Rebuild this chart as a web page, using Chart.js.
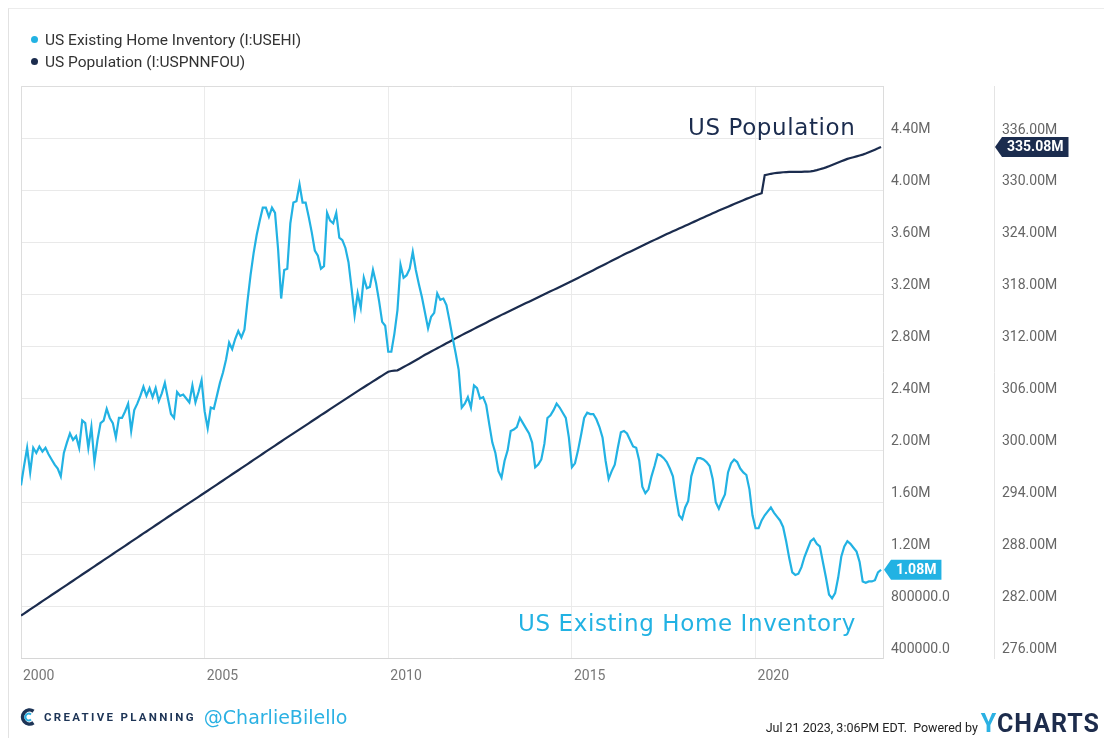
<!DOCTYPE html>
<html>
<head>
<meta charset="utf-8">
<title>US Existing Home Inventory vs US Population</title>
<script src="https://cdn.jsdelivr.net/npm/chart.js@4.4.0/dist/chart.umd.min.js"></script>
<style>
  body { margin: 0; background: #fff; font-family: Roboto, sans-serif; }
  #wrap { position: relative; width: 1104px; height: 738px; overflow: hidden; }
  #chart { position: absolute; left: 0; top: 0; }
  .frame { position: absolute; left: 8px; top: 8px; right: 0; bottom: 0; border-left: 1px solid #e2e2e2; border-top: 1px solid #ececec; }
  .legend { position: absolute; left: 31px; font-size: 15.5px; color: #333; line-height: 18px; }
  .legend span { display: inline-block; width: 7px; height: 7px; border-radius: 50%; margin-right: 7px; vertical-align: 2px; }
  .note { position: absolute; font-family: "DejaVu Sans", sans-serif; font-size: 23px; line-height: 28px; letter-spacing: 0.6px; white-space: nowrap; }
  .brand { position: absolute; left: 20px; top: 706px; display: flex; align-items: center; white-space: nowrap; }
  .brand b { font-size: 11.5px; letter-spacing: 2.3px; color: #1d3456; margin-left: 8px; font-weight: 700; }
  .brand i { font-family: "DejaVu Sans", sans-serif; font-style: normal; font-size: 19px; color: #2bb1e3; margin-left: 8px; }
  .stamp { position: absolute; right: 4px; top: 709px; display: flex; align-items: baseline; white-space: nowrap; }
  .stamp small { font-size: 12.5px; color: #222; margin-right: 3px; }
  .stamp strong { font-size: 25px; letter-spacing: 1px; color: #1d2c4c; font-weight: 700; }
  .stamp strong em { font-style: normal; color: #2bb1e3; }
</style>
</head>
<body>
<div id="wrap">
  <div class="frame"></div>
  <canvas id="chart" width="1104" height="738"></canvas>
  <div class="legend" style="top:31px"><span style="background:#22b2e3"></span>US Existing Home Inventory (I:USEHI)</div>
  <div class="legend" style="top:53px"><span style="background:#1b2c4e"></span>US Population (I:USPNNFOU)</div>
  <div class="note" style="left:688px; top:113px; color:#1b2c4e">US Population</div>
  <div class="note" style="left:518px; top:609px; color:#22b2e3">US Existing Home Inventory</div>
  <div class="brand">
    <svg width="16" height="18" viewBox="0 0 16 18"><path d="M13.5 3.2 A7 7 0 1 0 13.5 14.8" fill="none" stroke="#1d3456" stroke-width="3.6"/><path d="M11 6.4 A3.4 3.4 0 1 0 11 11.6" fill="none" stroke="#2bb1e3" stroke-width="2"/></svg>
    <b>CREATIVE PLANNING</b><i>@CharlieBilello</i>
  </div>
  <div class="stamp"><small>Jul 21 2023, 3:06PM EDT.&nbsp; Powered by</small><strong><em>Y</em>CHARTS</strong></div>
</div>

<script>
// monthly series, Jan 2000 .. Jun 2023, values in millions
const startYear = 2000;

const inventory = [
  1.73, 1.88, 2.02, 1.83, 2.02, 1.98, 2.03, 1.99, 2.02, 1.97, 1.93, 1.89, // 2000
  1.86, 1.80, 1.98, 2.06, 2.13, 2.08, 2.11, 2.02, 2.23, 2.21, 2.02, 2.18, // 2001
  1.91, 2.08, 2.21, 2.23, 2.32, 2.25, 2.21, 2.10, 2.25, 2.25, 2.30, 2.36, // 2002
  2.15, 2.31, 2.36, 2.42, 2.49, 2.42, 2.48, 2.41, 2.48, 2.38, 2.44, 2.52, // 2003
  2.40, 2.28, 2.25, 2.45, 2.42, 2.43, 2.40, 2.37, 2.50, 2.37, 2.45, 2.54, // 2004
  2.30, 2.17, 2.33, 2.32, 2.42, 2.52, 2.60, 2.70, 2.83, 2.78, 2.86, 2.92, // 2005
  2.87, 2.93, 3.15, 3.35, 3.52, 3.66, 3.77, 3.87, 3.87, 3.80, 3.87, 3.83, // 2006
  3.55, 3.17, 3.39, 3.40, 3.75, 3.91, 3.92, 4.05, 3.91, 3.91, 3.80, 3.68, // 2007
  3.54, 3.50, 3.40, 3.42, 3.83, 3.77, 3.75, 3.83, 3.64, 3.62, 3.56, 3.45, // 2008
  3.25, 3.04, 3.21, 3.10, 3.33, 3.25, 3.26, 3.39, 3.29, 3.15, 2.99, 2.96, // 2009
  2.76, 2.76, 2.90, 3.08, 3.43, 3.33, 3.35, 3.40, 3.53, 3.39, 3.28, 3.18, // 2010
  3.06, 2.94, 3.03, 3.06, 3.21, 3.16, 3.17, 3.12, 3.00, 2.87, 2.75, 2.62, // 2011
  2.33, 2.36, 2.41, 2.33, 2.50, 2.48, 2.40, 2.41, 2.35, 2.20, 2.06, 1.98, // 2012
  1.84, 1.79, 1.92, 2.00, 2.15, 2.16, 2.18, 2.25, 2.21, 2.17, 2.13, 2.06, // 2013
  1.87, 1.89, 1.93, 2.05, 2.25, 2.27, 2.31, 2.36, 2.33, 2.29, 2.25, 2.10, // 2014
  1.87, 1.90, 2.00, 2.12, 2.25, 2.29, 2.28, 2.28, 2.24, 2.18, 2.10, 1.92, // 2015
  1.78, 1.84, 1.89, 2.02, 2.14, 2.15, 2.13, 2.08, 2.03, 2.02, 1.92, 1.72, // 2016
  1.67, 1.70, 1.80, 1.88, 1.97, 1.96, 1.94, 1.91, 1.86, 1.80, 1.64, 1.50, // 2017
  1.47, 1.56, 1.61, 1.80, 1.88, 1.94, 1.94, 1.93, 1.91, 1.88, 1.78, 1.60, // 2018
  1.55, 1.61, 1.66, 1.83, 1.90, 1.93, 1.91, 1.86, 1.83, 1.81, 1.70, 1.50, // 2019
  1.40, 1.40, 1.46, 1.50, 1.53, 1.56, 1.52, 1.49, 1.46, 1.41, 1.30, 1.17, // 2020
  1.06, 1.04, 1.05, 1.10, 1.18, 1.24, 1.30, 1.32, 1.28, 1.26, 1.14, 1.02, // 2021
  0.89, 0.86, 0.90, 1.02, 1.18, 1.26, 1.30, 1.28, 1.25, 1.22, 1.14, 0.99, // 2022
  0.98, 0.99, 0.99, 1.00, 1.06, 1.08                                      // 2023
];

const population = [
  280.90, 281.14, 281.38, 281.62, 281.86, 282.09, 282.33, 282.57, 282.80, 283.04, 283.28, 283.51, // 2000
  283.75, 283.99, 284.22, 284.46, 284.70, 284.93, 285.17, 285.41, 285.65, 285.88, 286.12, 286.36, // 2001
  286.60, 286.84, 287.07, 287.31, 287.55, 287.78, 288.02, 288.26, 288.50, 288.73, 288.97, 289.21, // 2002
  289.45, 289.69, 289.92, 290.16, 290.40, 290.63, 290.87, 291.11, 291.35, 291.58, 291.82, 292.06, // 2003
  292.30, 292.53, 292.77, 293.00, 293.23, 293.47, 293.70, 293.93, 294.17, 294.40, 294.63, 294.87, // 2004
  295.10, 295.34, 295.58, 295.81, 296.05, 296.29, 296.52, 296.76, 297.00, 297.24, 297.47, 297.71, // 2005
  297.95, 298.19, 298.42, 298.66, 298.90, 299.13, 299.37, 299.61, 299.85, 300.09, 300.32, 300.56, // 2006
  300.80, 301.03, 301.27, 301.50, 301.73, 301.97, 302.20, 302.43, 302.67, 302.90, 303.13, 303.37, // 2007
  303.60, 303.83, 304.07, 304.30, 304.53, 304.77, 305.00, 305.23, 305.47, 305.70, 305.93, 306.17, // 2008
  306.40, 306.63, 306.85, 307.08, 307.30, 307.53, 307.75, 307.98, 308.20, 308.43, 308.65, 308.88, // 2009
  309.10, 309.18, 309.22, 309.26, 309.45, 309.64, 309.83, 310.02, 310.22, 310.42, 310.62, 310.84, // 2010
  311.05, 311.24, 311.43, 311.62, 311.81, 312.00, 312.19, 312.38, 312.57, 312.76, 312.95, 313.14, // 2011
  313.33, 313.51, 313.69, 313.87, 314.05, 314.23, 314.41, 314.59, 314.77, 314.95, 315.13, 315.31, // 2012
  315.49, 315.67, 315.84, 316.01, 316.18, 316.35, 316.52, 316.69, 316.86, 317.03, 317.20, 317.37, // 2013
  317.54, 317.71, 317.88, 318.05, 318.22, 318.39, 318.56, 318.73, 318.90, 319.07, 319.24, 319.41, // 2014
  319.58, 319.76, 319.94, 320.12, 320.30, 320.48, 320.66, 320.84, 321.02, 321.20, 321.38, 321.56, // 2015
  321.74, 321.92, 322.10, 322.28, 322.46, 322.64, 322.81, 322.98, 323.15, 323.32, 323.49, 323.66, // 2016
  323.83, 324.00, 324.17, 324.34, 324.51, 324.68, 324.85, 325.01, 325.17, 325.33, 325.49, 325.65, // 2017
  325.81, 325.97, 326.13, 326.29, 326.45, 326.61, 326.77, 326.93, 327.09, 327.25, 327.41, 327.57, // 2018
  327.73, 327.88, 328.03, 328.18, 328.33, 328.48, 328.63, 328.78, 328.93, 329.08, 329.22, 329.36, // 2019
  329.50, 329.62, 329.74, 331.82, 331.90, 331.98, 332.04, 332.08, 332.12, 332.16, 332.18, 332.20, // 2020
  332.20, 332.20, 332.20, 332.21, 332.22, 332.23, 332.26, 332.32, 332.40, 332.50, 332.60, 332.72, // 2021
  332.86, 333.00, 333.14, 333.28, 333.42, 333.56, 333.70, 333.80, 333.90, 334.00, 334.10, 334.20, // 2022
  334.32, 334.47, 334.62, 334.77, 334.92, 335.08                                                  // 2023
];

const seriesNames = ['US Existing Home Inventory (I:USEHI)', 'US Population (I:USPNNFOU)'];
const seriesColors = ['#22b2e3', '#1b2c4e'];
const yearTicks = [2000, 2005, 2010, 2015, 2020];
const inventoryTicks = [0.4, 0.8, 1.2, 1.6, 2.0, 2.4, 2.8, 3.2, 3.6, 4.0, 4.4];
const populationTicks = [276, 282, 288, 294, 300, 306, 312, 318, 324, 330, 336];

const toPoints = arr => arr.map((v, i) => ({ x: startYear + i / 12, y: v }));

function inventoryLabel(v) {
  return v >= 1 ? v.toFixed(2) + 'M' : (v * 1e6).toFixed(1);
}

// frame lines on the top and left side of the plot
const plotFrame = {
  id: 'plotFrame',
  beforeDatasetsDraw(chart) {
    const { ctx, chartArea: a } = chart;
    ctx.save();
    ctx.strokeStyle = '#dddddd';
    ctx.lineWidth = 1;
    ctx.beginPath();
    ctx.moveTo(a.left + 0.5, a.bottom);
    ctx.lineTo(a.left + 0.5, a.top + 0.5);
    ctx.lineTo(a.right, a.top + 0.5);
    ctx.stroke();
    ctx.restore();
  }
};

// last value tag pointing at each series' own axis
const lastValueTags = {
  id: 'lastValueTags',
  afterDatasetsDraw(chart) {
    const ctx = chart.ctx;
    chart.data.datasets.forEach(ds => {
      const scale = chart.scales[ds.yAxisID];
      const last = ds.data[ds.data.length - 1];
      const y = scale.getPixelForValue(last.y);
      const text = last.y.toFixed(2) + 'M';
      ctx.save();
      ctx.font = 'bold 14px Roboto';
      const w = ctx.measureText(text).width + 10;
      const h = 20;
      const x0 = scale.left + 1;
      const x1 = x0 + 7;
      ctx.fillStyle = ds.borderColor;
      ctx.beginPath();
      ctx.moveTo(x0, y);
      ctx.lineTo(x1, y - h / 2);
      ctx.lineTo(x1 + w, y - h / 2);
      ctx.lineTo(x1 + w, y + h / 2);
      ctx.lineTo(x1, y + h / 2);
      ctx.closePath();
      ctx.fill();
      ctx.fillStyle = '#ffffff';
      ctx.textBaseline = 'middle';
      ctx.textAlign = 'left';
      ctx.fillText(text, x1 + 5, y + 1);
      ctx.restore();
    });
  }
};

Chart.defaults.font.family = 'Roboto, sans-serif';

const ctx = document.getElementById('chart');
new Chart(ctx, {
  type: 'line',
  data: {
    datasets: [
      {
        label: seriesNames[0],
        data: toPoints(inventory),
        yAxisID: 'y',
        borderColor: seriesColors[0],
        borderWidth: 2.2,
        pointRadius: 0,
        tension: 0
      },
      {
        label: seriesNames[1],
        data: toPoints(population),
        yAxisID: 'y1',
        borderColor: seriesColors[1],
        borderWidth: 2.2,
        pointRadius: 0,
        tension: 0
      }
    ]
  },
  options: {
    responsive: false,
    animation: false,
    layout: { padding: { left: 21, top: 86, right: 10, bottom: 52 } },
    plugins: {
      legend: { display: false },
      tooltip: { enabled: false }
    },
    scales: {
      x: {
        type: 'linear',
        min: yearTicks[0],
        max: 2023.47,
        afterBuildTicks: s => { s.ticks = yearTicks.map(v => ({ value: v })); },
        afterFit: s => { s.height = 28; },
        grid: { color: '#ebebeb', drawTicks: false },
        border: { color: '#d6d6d6' },
        ticks: {
          align: 'start',
          padding: 10,
          labelOffset: 2,
          color: '#777',
          font: { size: 14 },
          callback: v => String(v)
        }
      },
      y: {
        position: 'right',
        weight: 0,
        min: 0.4,
        max: 4.808,
        afterBuildTicks: s => { s.ticks = inventoryTicks.map(v => ({ value: v })); },
        afterFit: s => { s.width = 111; },
        grid: { color: '#e9e9e9', drawTicks: false },
        border: { color: '#dcdcdc' },
        ticks: {
          crossAlign: 'near',
          padding: 8,
          labelOffset: -9,
          color: '#666',
          font: { size: 14 },
          callback: v => inventoryLabel(v)
        }
      },
      y1: {
        position: 'right',
        weight: 1,
        min: 276,
        max: 342.13,
        afterBuildTicks: s => { s.ticks = populationTicks.map(v => ({ value: v })); },
        afterFit: s => { s.width = 100; },
        grid: { display: false, drawTicks: false },
        border: { color: '#e4e4e4' },
        ticks: {
          crossAlign: 'near',
          padding: 8,
          labelOffset: -9,
          color: '#666',
          font: { size: 14 },
          callback: v => v.toFixed(2) + 'M'
        }
      }
    }
  },
  plugins: [plotFrame, lastValueTags]
});
</script>
</body>
</html>
